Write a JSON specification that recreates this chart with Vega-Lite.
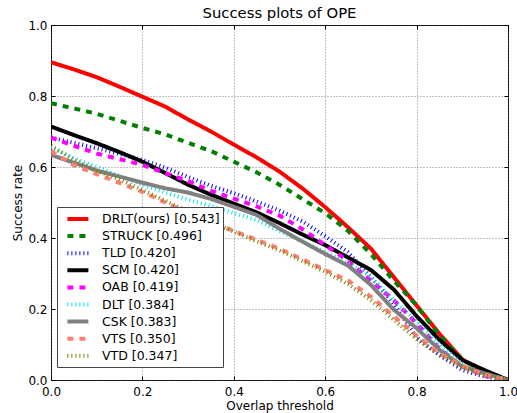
{
  "$schema": "https://vega.github.io/schema/vega-lite/v6.json",
  "autosize": {"type": "none"},
  "width": 457,
  "height": 355,
  "padding": {"left": 51, "top": 25, "right": 9, "bottom": 33},
  "background": "white",
  "title": {"text": "Success plots of OPE", "fontSize": 14.8, "fontWeight": "normal", "font": "DejaVu Sans", "color": "#000", "baseline": "alphabetic", "offset": 5, "dy": 19, "anchor": "middle", "frame": "group"},
  "config": {
    "font": "DejaVu Sans",
    "view": {"stroke": "#000", "strokeWidth": 1},
    "axis": {"labelColor": "#000", "titleColor": "#000", "tickColor": "#000", "labelFontSize": 12, "titleFontSize": 12, "titleFontWeight": "normal", "labelFont": "DejaVu Sans", "titleFont": "DejaVu Sans", "gridColor": "#666", "gridDash": [1, 2], "gridWidth": 0.8, "gridOpacity": 1, "domain": false, "tickSize": -4, "tickWidth": 1, "labelFlush": false, "labelOverlap": false},
    "legend": {"labelFont": "DejaVu Sans", "labelFontSize": 12.5}
  },
  "datasets": {
    "curves": [
      {"m":"DRLT(ours) [0.543]","t":0,"s":0.895},{"m":"DRLT(ours) [0.543]","t":0.05,"s":0.875},{"m":"DRLT(ours) [0.543]","t":0.1,"s":0.853},{"m":"DRLT(ours) [0.543]","t":0.15,"s":0.826},{"m":"DRLT(ours) [0.543]","t":0.2,"s":0.798},{"m":"DRLT(ours) [0.543]","t":0.25,"s":0.77},{"m":"DRLT(ours) [0.543]","t":0.3,"s":0.734},{"m":"DRLT(ours) [0.543]","t":0.35,"s":0.7},{"m":"DRLT(ours) [0.543]","t":0.4,"s":0.663},{"m":"DRLT(ours) [0.543]","t":0.45,"s":0.627},{"m":"DRLT(ours) [0.543]","t":0.5,"s":0.587},{"m":"DRLT(ours) [0.543]","t":0.55,"s":0.54},{"m":"DRLT(ours) [0.543]","t":0.6,"s":0.487},{"m":"DRLT(ours) [0.543]","t":0.65,"s":0.43},{"m":"DRLT(ours) [0.543]","t":0.7,"s":0.37},{"m":"DRLT(ours) [0.543]","t":0.75,"s":0.29},{"m":"DRLT(ours) [0.543]","t":0.8,"s":0.21},{"m":"DRLT(ours) [0.543]","t":0.85,"s":0.13},{"m":"DRLT(ours) [0.543]","t":0.9,"s":0.058},{"m":"DRLT(ours) [0.543]","t":0.95,"s":0.02},{"m":"DRLT(ours) [0.543]","t":1,"s":0},
      {"m":"STRUCK [0.496]","t":0,"s":0.78},{"m":"STRUCK [0.496]","t":0.05,"s":0.765},{"m":"STRUCK [0.496]","t":0.1,"s":0.75},{"m":"STRUCK [0.496]","t":0.15,"s":0.73},{"m":"STRUCK [0.496]","t":0.2,"s":0.71},{"m":"STRUCK [0.496]","t":0.25,"s":0.692},{"m":"STRUCK [0.496]","t":0.3,"s":0.668},{"m":"STRUCK [0.496]","t":0.35,"s":0.645},{"m":"STRUCK [0.496]","t":0.4,"s":0.615},{"m":"STRUCK [0.496]","t":0.45,"s":0.585},{"m":"STRUCK [0.496]","t":0.5,"s":0.55},{"m":"STRUCK [0.496]","t":0.55,"s":0.51},{"m":"STRUCK [0.496]","t":0.6,"s":0.47},{"m":"STRUCK [0.496]","t":0.65,"s":0.42},{"m":"STRUCK [0.496]","t":0.7,"s":0.355},{"m":"STRUCK [0.496]","t":0.75,"s":0.28},{"m":"STRUCK [0.496]","t":0.8,"s":0.21},{"m":"STRUCK [0.496]","t":0.85,"s":0.125},{"m":"STRUCK [0.496]","t":0.9,"s":0.058},{"m":"STRUCK [0.496]","t":0.95,"s":0.02},{"m":"STRUCK [0.496]","t":1,"s":0},
      {"m":"TLD [0.420]","t":0,"s":0.683},{"m":"TLD [0.420]","t":0.05,"s":0.668},{"m":"TLD [0.420]","t":0.1,"s":0.653},{"m":"TLD [0.420]","t":0.15,"s":0.637},{"m":"TLD [0.420]","t":0.2,"s":0.62},{"m":"TLD [0.420]","t":0.25,"s":0.598},{"m":"TLD [0.420]","t":0.3,"s":0.572},{"m":"TLD [0.420]","t":0.35,"s":0.547},{"m":"TLD [0.420]","t":0.4,"s":0.526},{"m":"TLD [0.420]","t":0.45,"s":0.503},{"m":"TLD [0.420]","t":0.5,"s":0.477},{"m":"TLD [0.420]","t":0.55,"s":0.447},{"m":"TLD [0.420]","t":0.6,"s":0.405},{"m":"TLD [0.420]","t":0.65,"s":0.36},{"m":"TLD [0.420]","t":0.7,"s":0.29},{"m":"TLD [0.420]","t":0.75,"s":0.215},{"m":"TLD [0.420]","t":0.8,"s":0.12},{"m":"TLD [0.420]","t":0.85,"s":0.07},{"m":"TLD [0.420]","t":0.9,"s":0.028},{"m":"TLD [0.420]","t":0.95,"s":0.009},{"m":"TLD [0.420]","t":1,"s":0},
      {"m":"SCM [0.420]","t":0,"s":0.714},{"m":"SCM [0.420]","t":0.05,"s":0.69},{"m":"SCM [0.420]","t":0.1,"s":0.667},{"m":"SCM [0.420]","t":0.15,"s":0.642},{"m":"SCM [0.420]","t":0.2,"s":0.615},{"m":"SCM [0.420]","t":0.25,"s":0.583},{"m":"SCM [0.420]","t":0.3,"s":0.55},{"m":"SCM [0.420]","t":0.35,"s":0.522},{"m":"SCM [0.420]","t":0.4,"s":0.497},{"m":"SCM [0.420]","t":0.45,"s":0.472},{"m":"SCM [0.420]","t":0.5,"s":0.442},{"m":"SCM [0.420]","t":0.55,"s":0.41},{"m":"SCM [0.420]","t":0.6,"s":0.38},{"m":"SCM [0.420]","t":0.65,"s":0.345},{"m":"SCM [0.420]","t":0.7,"s":0.31},{"m":"SCM [0.420]","t":0.75,"s":0.255},{"m":"SCM [0.420]","t":0.8,"s":0.18},{"m":"SCM [0.420]","t":0.85,"s":0.113},{"m":"SCM [0.420]","t":0.9,"s":0.056},{"m":"SCM [0.420]","t":0.95,"s":0.027},{"m":"SCM [0.420]","t":1,"s":0},
      {"m":"OAB [0.419]","t":0,"s":0.683},{"m":"OAB [0.419]","t":0.05,"s":0.66},{"m":"OAB [0.419]","t":0.1,"s":0.638},{"m":"OAB [0.419]","t":0.15,"s":0.622},{"m":"OAB [0.419]","t":0.2,"s":0.606},{"m":"OAB [0.419]","t":0.25,"s":0.583},{"m":"OAB [0.419]","t":0.3,"s":0.56},{"m":"OAB [0.419]","t":0.35,"s":0.533},{"m":"OAB [0.419]","t":0.4,"s":0.511},{"m":"OAB [0.419]","t":0.45,"s":0.489},{"m":"OAB [0.419]","t":0.5,"s":0.463},{"m":"OAB [0.419]","t":0.55,"s":0.425},{"m":"OAB [0.419]","t":0.6,"s":0.38},{"m":"OAB [0.419]","t":0.65,"s":0.335},{"m":"OAB [0.419]","t":0.7,"s":0.28},{"m":"OAB [0.419]","t":0.75,"s":0.225},{"m":"OAB [0.419]","t":0.8,"s":0.16},{"m":"OAB [0.419]","t":0.85,"s":0.088},{"m":"OAB [0.419]","t":0.9,"s":0.038},{"m":"OAB [0.419]","t":0.95,"s":0.012},{"m":"OAB [0.419]","t":1,"s":0},
      {"m":"DLT [0.384]","t":0,"s":0.655},{"m":"DLT [0.384]","t":0.05,"s":0.625},{"m":"DLT [0.384]","t":0.1,"s":0.6},{"m":"DLT [0.384]","t":0.15,"s":0.575},{"m":"DLT [0.384]","t":0.2,"s":0.55},{"m":"DLT [0.384]","t":0.25,"s":0.528},{"m":"DLT [0.384]","t":0.3,"s":0.508},{"m":"DLT [0.384]","t":0.35,"s":0.49},{"m":"DLT [0.384]","t":0.4,"s":0.47},{"m":"DLT [0.384]","t":0.45,"s":0.45},{"m":"DLT [0.384]","t":0.5,"s":0.42},{"m":"DLT [0.384]","t":0.55,"s":0.39},{"m":"DLT [0.384]","t":0.6,"s":0.36},{"m":"DLT [0.384]","t":0.65,"s":0.33},{"m":"DLT [0.384]","t":0.7,"s":0.29},{"m":"DLT [0.384]","t":0.75,"s":0.225},{"m":"DLT [0.384]","t":0.8,"s":0.165},{"m":"DLT [0.384]","t":0.85,"s":0.1},{"m":"DLT [0.384]","t":0.9,"s":0.045},{"m":"DLT [0.384]","t":0.95,"s":0.015},{"m":"DLT [0.384]","t":1,"s":0},
      {"m":"CSK [0.383]","t":0,"s":0.634},{"m":"CSK [0.383]","t":0.05,"s":0.612},{"m":"CSK [0.383]","t":0.1,"s":0.59},{"m":"CSK [0.383]","t":0.15,"s":0.573},{"m":"CSK [0.383]","t":0.2,"s":0.556},{"m":"CSK [0.383]","t":0.25,"s":0.54},{"m":"CSK [0.383]","t":0.3,"s":0.528},{"m":"CSK [0.383]","t":0.35,"s":0.51},{"m":"CSK [0.383]","t":0.4,"s":0.488},{"m":"CSK [0.383]","t":0.45,"s":0.465},{"m":"CSK [0.383]","t":0.5,"s":0.426},{"m":"CSK [0.383]","t":0.55,"s":0.39},{"m":"CSK [0.383]","t":0.6,"s":0.355},{"m":"CSK [0.383]","t":0.65,"s":0.322},{"m":"CSK [0.383]","t":0.7,"s":0.268},{"m":"CSK [0.383]","t":0.75,"s":0.198},{"m":"CSK [0.383]","t":0.8,"s":0.146},{"m":"CSK [0.383]","t":0.85,"s":0.085},{"m":"CSK [0.383]","t":0.9,"s":0.038},{"m":"CSK [0.383]","t":0.95,"s":0.018},{"m":"CSK [0.383]","t":1,"s":0},
      {"m":"VTS [0.350]","t":0,"s":0.645},{"m":"VTS [0.350]","t":0.05,"s":0.605},{"m":"VTS [0.350]","t":0.1,"s":0.58},{"m":"VTS [0.350]","t":0.15,"s":0.555},{"m":"VTS [0.350]","t":0.2,"s":0.53},{"m":"VTS [0.350]","t":0.25,"s":0.5},{"m":"VTS [0.350]","t":0.3,"s":0.47},{"m":"VTS [0.350]","t":0.35,"s":0.445},{"m":"VTS [0.350]","t":0.4,"s":0.42},{"m":"VTS [0.350]","t":0.45,"s":0.395},{"m":"VTS [0.350]","t":0.5,"s":0.37},{"m":"VTS [0.350]","t":0.55,"s":0.34},{"m":"VTS [0.350]","t":0.6,"s":0.31},{"m":"VTS [0.350]","t":0.65,"s":0.28},{"m":"VTS [0.350]","t":0.7,"s":0.235},{"m":"VTS [0.350]","t":0.75,"s":0.18},{"m":"VTS [0.350]","t":0.8,"s":0.125},{"m":"VTS [0.350]","t":0.85,"s":0.075},{"m":"VTS [0.350]","t":0.9,"s":0.04},{"m":"VTS [0.350]","t":0.95,"s":0.015},{"m":"VTS [0.350]","t":1,"s":0},
      {"m":"VTD [0.347]","t":0,"s":0.66},{"m":"VTD [0.347]","t":0.05,"s":0.62},{"m":"VTD [0.347]","t":0.1,"s":0.59},{"m":"VTD [0.347]","t":0.15,"s":0.565},{"m":"VTD [0.347]","t":0.2,"s":0.535},{"m":"VTD [0.347]","t":0.25,"s":0.505},{"m":"VTD [0.347]","t":0.3,"s":0.475},{"m":"VTD [0.347]","t":0.35,"s":0.445},{"m":"VTD [0.347]","t":0.4,"s":0.418},{"m":"VTD [0.347]","t":0.45,"s":0.39},{"m":"VTD [0.347]","t":0.5,"s":0.365},{"m":"VTD [0.347]","t":0.55,"s":0.335},{"m":"VTD [0.347]","t":0.6,"s":0.305},{"m":"VTD [0.347]","t":0.65,"s":0.27},{"m":"VTD [0.347]","t":0.7,"s":0.225},{"m":"VTD [0.347]","t":0.75,"s":0.17},{"m":"VTD [0.347]","t":0.8,"s":0.115},{"m":"VTD [0.347]","t":0.85,"s":0.07},{"m":"VTD [0.347]","t":0.9,"s":0.035},{"m":"VTD [0.347]","t":0.95,"s":0.012},{"m":"VTD [0.347]","t":1,"s":0}
    ]
  },
  "data": {"name": "curves"},
  "layer": [
    {
      "mark": {"type": "line", "strokeWidth": 4, "strokeCap": "butt", "clip": true},
      "encoding": {
        "x": {"field": "t", "type": "quantitative", "scale": {"domain": [0, 1], "nice": false, "zero": false},
          "axis": {"orient": "bottom", "values": [0, 0.2, 0.4, 0.6, 0.8, 1], "format": ".1f", "title": "Overlap threshold", "grid": true, "labelPadding": 10.5, "titleY": 29, "titleBaseline": "alphabetic"}},
        "y": {"field": "s", "type": "quantitative", "scale": {"domain": [0, 1], "nice": false, "zero": false},
          "axis": {"orient": "left", "values": [0, 0.2, 0.4, 0.6, 0.8, 1], "format": ".1f", "title": "Success rate", "grid": true, "labelPadding": 8, "titleX": -30, "titleY": 177.5, "titleAngle": 270, "titleAlign": "center", "titleBaseline": "alphabetic"}},
        "color": {"field": "m", "type": "nominal",
          "scale": {"domain": ["DRLT(ours) [0.543]", "STRUCK [0.496]", "TLD [0.420]", "SCM [0.420]", "OAB [0.419]", "DLT [0.384]", "CSK [0.383]", "VTS [0.350]", "VTD [0.347]"],
                    "range": ["#ff0000", "#008000", "#0000ff", "#000000", "#ff00ff", "#00e5ee", "#808080", "#fa8072", "#808000"]},
          "legend": {"title": null, "orient": "none", "legendX": 6, "legendY": 182, "fillColor": "white", "strokeColor": "#444", "padding": 3, "labelFontSize": 12.5, "labelColor": "#000", "labelFont": "DejaVu Sans", "labelLimit": 300, "symbolStrokeWidth": 4, "symbolType": "M-0.23,0H2.77", "symbolSize": 196, "labelOffset": 24, "rowPadding": 0.1}},
        "strokeDash": {"field": "m", "type": "nominal",
          "scale": {"domain": ["DRLT(ours) [0.543]", "STRUCK [0.496]", "TLD [0.420]", "SCM [0.420]", "OAB [0.419]", "DLT [0.384]", "CSK [0.383]", "VTS [0.350]", "VTD [0.347]"],
                    "range": [[1, 0], [6, 6], [1, 3], [1, 0], [6, 6], [1, 3], [1, 0], [6, 6], [1, 3]]},
          "legend": {"title": null, "orient": "none", "legendX": 6, "legendY": 182, "fillColor": "white", "strokeColor": "#444", "padding": 3, "labelFontSize": 12.5, "labelColor": "#000", "labelFont": "DejaVu Sans", "labelLimit": 300, "symbolStrokeWidth": 4, "symbolType": "M-0.23,0H2.77", "symbolSize": 196, "labelOffset": 24, "rowPadding": 0.1}}
      }
    },
    {
      "mark": {"type": "point", "opacity": 0},
      "encoding": {
        "x": {"field": "t", "type": "quantitative", "axis": {"orient": "top", "values": [0, 0.2, 0.4, 0.6, 0.8, 1], "labels": false, "title": null, "grid": false}},
        "y": {"field": "s", "type": "quantitative", "axis": {"orient": "right", "values": [0, 0.2, 0.4, 0.6, 0.8, 1], "labels": false, "title": null, "grid": false}}
      }
    }
  ],
  "resolve": {"axis": {"x": "independent", "y": "independent"}}
}
